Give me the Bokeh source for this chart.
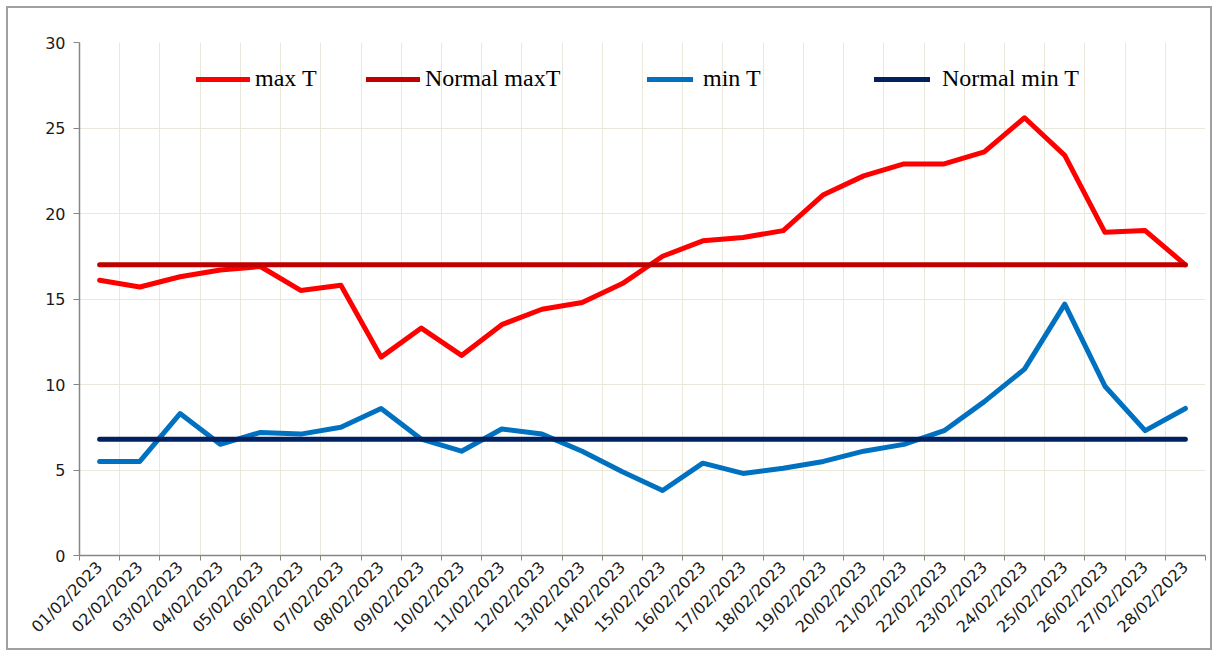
import math
from bokeh.plotting import figure
from bokeh.models import FixedTicker, Legend, LegendItem, Range1d
from bokeh.embed import file_html
from bokeh.resources import INLINE

dates = ["01/02/2023", "02/02/2023", "03/02/2023", "04/02/2023", "05/02/2023",
         "06/02/2023", "07/02/2023", "08/02/2023", "09/02/2023", "10/02/2023",
         "11/02/2023", "12/02/2023", "13/02/2023", "14/02/2023", "15/02/2023",
         "16/02/2023", "17/02/2023", "18/02/2023", "19/02/2023", "20/02/2023",
         "21/02/2023", "22/02/2023", "23/02/2023", "24/02/2023", "25/02/2023",
         "26/02/2023", "27/02/2023", "28/02/2023"]
max_t = [16.1, 15.7, 16.3, 16.7, 16.9, 15.5, 15.8, 11.6, 13.3, 11.7,
         13.5, 14.4, 14.8, 15.9, 17.5, 18.4, 18.6, 19.0, 21.1, 22.2,
         22.9, 22.9, 23.6, 25.6, 23.4, 18.9, 19.0, 17.0]
min_t = [5.5, 5.5, 8.3, 6.5, 7.2, 7.1, 7.5, 8.6, 6.8, 6.1,
         7.4, 7.1, 6.1, 4.9, 3.8, 5.4, 4.8, 5.1, 5.5, 6.1,
         6.5, 7.3, 9.0, 10.9, 14.7, 9.9, 7.3, 8.6]
normal_max = [17.0] * len(dates)
normal_min = [6.8] * len(dates)
y_ticks = [0, 5, 10, 15, 20, 25, 30]

n = len(dates)
xc = [i + 0.5 for i in range(n)]
bounds = list(range(n + 1))

p = figure(width=1206, height=644, output_backend="svg", toolbar_location=None,
           x_range=Range1d(0, n), y_range=Range1d(0, 30),
           min_border_left=71, min_border_right=9, min_border_top=34, min_border_bottom=97)
p.styles = {"border": "2px solid #a0a0a0", "margin": "6px 0 0 6px"}
p.outline_line_color = None
p.background_fill_color = "white"
p.border_fill_color = "white"

# grid
p.xgrid.ticker = FixedTicker(ticks=bounds)
p.ygrid.ticker = FixedTicker(ticks=y_ticks)
p.grid.grid_line_color = "#ebe8da"
p.grid.grid_line_width = 1

# axes
p.xaxis.ticker = FixedTicker(ticks=xc, minor_ticks=bounds)
p.xaxis.major_label_overrides = {x: d for x, d in zip(xc, dates)}
p.xaxis.major_label_orientation = math.pi / 4
p.xaxis.major_tick_out = 0
p.xaxis.major_tick_in = 0
p.xaxis.minor_tick_out = 5
p.xaxis.minor_tick_in = 0
p.xaxis.major_label_standoff = 4
p.yaxis.ticker = FixedTicker(ticks=y_ticks)
p.yaxis.major_tick_out = 6
p.yaxis.major_tick_in = 0
p.yaxis.minor_tick_line_color = None
p.yaxis.major_label_standoff = 8
for ax in (p.xaxis, p.yaxis):
    ax.axis_line_color = "#868686"
    ax.axis_line_width = 1.5
    ax.major_tick_line_color = "#868686"
    ax.major_label_text_font = "DejaVu Sans"
    ax.major_label_text_color = "#1a1a1a"
p.yaxis.major_label_text_font_size = "16px"
p.xaxis.major_label_text_font_size = "16px"
p.xaxis.minor_tick_line_color = "#868686"

r1 = p.line(xc, max_t, line_color="#ff0000", line_width=5, line_cap="round", line_join="round")
r2 = p.line(xc, normal_max, line_color="#c00000", line_width=5, line_cap="round")
r3 = p.line(xc, min_t, line_color="#0070c0", line_width=5, line_cap="round", line_join="round")
r4 = p.line(xc, normal_min, line_color="#002060", line_width=5, line_cap="round")

specs = [("max T", r1, 117, 54, 5),
         ("Normal maxT", r2, 287, 54, 5),
         ("min T", r3, 568, 46, 10),
         ("Normal min T", r4, 795, 56, 12)]
for label, r, lx, gw, so in specs:
    leg = Legend(items=[LegendItem(label=label, renderers=[r])], location=(lx, 463),
                 orientation="horizontal", padding=0, margin=0, spacing=0,
                 glyph_width=gw, glyph_height=20, label_standoff=so,
                 border_line_color=None, background_fill_alpha=0,
                 label_text_font="Liberation Serif", label_text_font_size="24px",
                 label_text_color="#000000")
    p.add_layout(leg)

open("out.html", "w").write(file_html(p, INLINE))
